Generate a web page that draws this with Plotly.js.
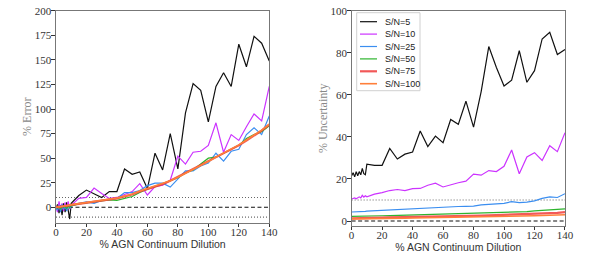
<!DOCTYPE html>
<html>
<head>
<meta charset="utf-8">
<script src="https://cdn.plot.ly/plotly-3.0.1.min.js"></script>
<style>html,body{margin:0;padding:0;background:#fff;}#chart{width:598px;height:257px;}</style>
</head>
<body>
<div id="chart"></div>
<script>
// AGN continuum dilution (%)
const dilution = [0,1,2,3,4,5,6,7,8,9,10,15,20,25,30,35,40,45,50,55,60,65,70,75,80,85,90,95,100,105,110,115,120,125,130,135,140];

const seriesNames = ["S/N=5","S/N=10","S/N=25","S/N=50","S/N=75","S/N=100"];

// % Error (left panel)
const errSN5   = [-2,3,-6,2,-8,4,-5,5,-3,-12,4,12,17.5,14,10,16,16,39,33.5,36,19,55,38,75,39,96,126,119,87,123,137,123,166,143,174,167,149];
const errSN10  = [0,-5,6,-2,4,-4,5,-3,6,-2,2,9,10,19.5,14,9,10,13,16,24,12.5,21,22.5,27.5,52,44,56,57,63,86,56,74,68,82,95,88,123];
const errSN25  = [0,-3,2,-5,3,-2,1,-4,2,-1,1,4,5.5,4,7,8,9,15,15,17,22,24.5,24.5,20.5,29,37,37,42,45,55,47,57,59,74,81,74,93];
const errSN50  = [0,-1,1,-2,1,0,1,-1,1,0,1.5,3.5,4.5,5.5,7,7.5,7,9,11,15,18.5,21,24,27,30,35,38,44,50,51,55,59,63,70,74,77,83];
const errSN75  = [0,0.5,0,0.5,1,1,1.5,1.5,2,2,2.5,3.5,4.5,5.5,7,8,9,11,13,16,18.5,21,23.5,27,31,35,38.5,43,47,51,55,59,63,68,73,78,84];
const errSN100 = [0,0.3,0.5,0.8,1,1.2,1.5,1.8,2,2.2,2.5,3.7,4.8,6,7.2,8.3,9.5,11.5,13.5,16.5,19,21.5,24,27,30.5,34.5,38,42.5,46.5,51,55,59.5,63.5,68.5,73.5,78.5,84.5];

// % Uncertainty (right panel)
const uncSN5   = [21.5,23,21,23.5,21.5,23.5,22,25,22.5,22,27,26.5,26.5,34.5,29.5,31.8,32.8,42.8,35.4,40.4,37.3,48.3,46,57,44.7,61.6,83,73,64.2,67,81,66,71.5,86.6,89.8,79.2,81.6];
const uncSN10  = [10.5,10.7,11,10.6,11.2,11.5,11,12.2,11.4,12,11.5,12.8,13.5,14.5,15,14.5,15.4,15.5,17,18,16.2,17.3,18.2,19,22.3,21.8,24,23.5,26,33.8,22.5,30.5,32.5,28.8,35.8,33,42];
const uncSN25  = [4.3,4.3,4.4,4.4,4.5,4.5,4.5,4.6,4.6,4.6,4.7,4.9,5.2,5.4,5.6,5.8,6.0,6.2,6.4,6.6,6.7,6.8,6.9,7.0,7.1,7.7,7.9,8.1,8.4,9.2,8.8,9.0,9.6,10.8,11.5,11.2,13];
const uncSN50  = [2.2,2.2,2.2,2.2,2.25,2.25,2.25,2.3,2.3,2.3,2.3,2.4,2.5,2.6,2.7,2.8,2.9,3.0,3.05,3.1,3.2,3.3,3.35,3.4,3.5,3.6,3.75,3.9,4.1,4.2,4.35,4.5,4.8,5.0,5.2,5.5,5.8];
const uncSN75  = [1.3,1.3,1.3,1.3,1.35,1.35,1.35,1.4,1.4,1.4,1.4,1.5,1.6,1.7,1.75,1.8,1.9,2.0,2.05,2.1,2.2,2.3,2.35,2.4,2.5,2.6,2.7,2.8,2.9,3.0,3.1,3.25,3.4,3.6,3.75,3.9,4.2];
const uncSN100 = [1.0,1.0,1.0,1.0,1.0,1.05,1.05,1.05,1.05,1.1,1.1,1.15,1.2,1.25,1.3,1.35,1.4,1.45,1.5,1.55,1.6,1.65,1.7,1.75,1.8,1.9,1.95,2.0,2.1,2.2,2.3,2.4,2.5,2.6,2.7,2.85,3.0];

// reference lines
const xSpan = [0,140];
const zeroLine = [0,0];
const plus10 = [10,10];
const minus10 = [-10,-10];

const xTicks = [0,20,40,60,80,100,120,140];
const errTicks = [0,25,50,75,100,125,150,175,200];
const uncTicks = [0,20,40,60,80,100];

const colors = ["#111111","#cc33ff","#3b8ef0","#2db42d","#f03c3c","#ff7f3a"];
const widths = [1.2,1.2,1.2,1.2,2.2,1.6];
const opac = [1,1,1,1,0.85,1];

const errData = [errSN5,errSN10,errSN25,errSN50,errSN75,errSN100];
const uncData = [uncSN5,uncSN10,uncSN25,uncSN50,uncSN75,uncSN100];

const W = 598, H = 257;
const traces = [];
function refLine(y, xa, ya, dash, color){
  traces.push({x:xSpan, y:y, xaxis:xa, yaxis:ya, mode:'lines', showlegend:false, hoverinfo:'skip',
    line:{color:color, width:1.1, dash:dash}});
}
refLine(plus10,'x','y','1px,2px','#666');
refLine(minus10,'x','y','1px,2px','#666');
refLine(zeroLine,'x','y','4px,2.5px','#111');
refLine(plus10,'x2','y2','1px,2px','#666');
refLine(zeroLine,'x2','y2','4px,2.5px','#111');

for (let i=0;i<6;i++){
  traces.push({x:dilution, y:errData[i], xaxis:'x', yaxis:'y', mode:'lines', name:seriesNames[i],
    showlegend:false, opacity:opac[i], line:{color:colors[i], width:widths[i]}});
}
for (let i=0;i<6;i++){
  traces.push({x:dilution, y:uncData[i], xaxis:'x2', yaxis:'y2', mode:'lines', name:seriesNames[i],
    showlegend:false, opacity:opac[i], line:{color:colors[i], width:widths[i]}});
}

// hand-drawn legend box (matplotlib style, compact)
const shapes = [{type:'rect', xref:'paper', yref:'paper', x0:356.7/W, x1:420/W, y0:1-90.7/H, y1:1-12.7/H,
  line:{color:'#d0d0d0', width:1}, fillcolor:'rgba(255,255,255,0.9)', layer:'above'}];
const annotations = [];
for (let i=0;i<6;i++){
  const yPix = 21.7 + i*12.4;
  shapes.push({type:'line', xref:'paper', yref:'paper', x0:360/W, x1:377/W, y0:1-yPix/H, y1:1-yPix/H,
    line:{color:colors[i], width:widths[i]}, opacity:opac[i], layer:'above'});
  annotations.push({xref:'paper', yref:'paper', x:383/W, y:1-yPix/H, xanchor:'left', yanchor:'middle',
    text:seriesNames[i], showarrow:false, font:{family:'"Liberation Sans", sans-serif', size:9, color:'#222'}});
}

const tickFont = {family:'"Liberation Serif", serif', size:11, color:'#333'};
const axCommon = {showline:true, mirror:true, linecolor:'#777', linewidth:1, ticks:'outside',
  ticklen:3.5, tickcolor:'#333', tickwidth:1, showgrid:false, zeroline:false, tickfont:tickFont};
const xTitleFont = {family:'"Liberation Sans", sans-serif', size:10.5, color:'#333'};
const yTitleFont = {family:'"Liberation Serif", serif', size:12, color:'#888'};

const layout = {
  width:W, height:H, margin:{l:0,r:0,t:0,b:0}, paper_bgcolor:'#fff', plot_bgcolor:'#fff',
  showlegend:false, shapes:shapes, annotations:annotations,
  xaxis:Object.assign({}, axCommon, {domain:[0.0936,0.4503], range:[0,140], tickvals:xTicks, anchor:'y',
    ticklabelstandoff:-4, title:{text:'% AGN Continuum Dilution', standoff:0, font:xTitleFont}}),
  yaxis:Object.assign({}, axCommon, {domain:[0.1335,0.958], range:[-15.7,200], tickvals:errTicks, anchor:'x',
    ticklabelstandoff:-2, title:{text:'% Error', standoff:0, font:yTitleFont}}),
  xaxis2:Object.assign({}, axCommon, {domain:[0.588,0.9448], range:[0,140], tickvals:xTicks, anchor:'y2',
    ticklabelstandoff:-4, title:{text:'% AGN Continuum Dilution', standoff:0, font:xTitleFont}}),
  yaxis2:Object.assign({}, axCommon, {domain:[0.122,0.958], range:[-2.2,100], tickvals:uncTicks, anchor:'x2',
    ticklabelstandoff:-2, title:{text:'% Uncertainty', standoff:0, font:yTitleFont}})
};

Plotly.newPlot('chart', traces, layout, {staticPlot:true, displayModeBar:false});
</script>
</body>
</html>
